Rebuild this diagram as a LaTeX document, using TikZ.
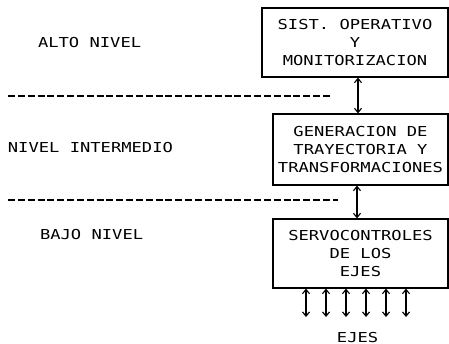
\documentclass[tikz,border=0pt]{standalone}
\usepackage{fontspec}
\newfontfamily\plotter[FakeStretch=1.25]{DejaVu Sans Mono}
\usetikzlibrary{arrows.meta}
\tikzset{
  caja/.style={draw, line width=0.9pt, align=center, inner sep=0pt,
    font=\plotter\fontsize{9.75}{13}\selectfont},
  nivel/.style={anchor=base, inner sep=0pt, font=\plotter\fontsize{9.75}{13}\selectfont},
  corte/.style={line width=0.9pt, dash pattern=on 5pt off 2pt},
  flecha/.style={line width=0.8pt,
    {Straight Barb[length=3pt,width=5pt]}-{Straight Barb[length=3pt,width=5pt]}}
}
\begin{document}
\begin{tikzpicture}
\useasboundingbox (0,0) rectangle (11.225,8.6);

\node[caja, minimum width=4.65cm, minimum height=1.725cm] (sist) at (8.875,7.5375)
  {SIST. OPERATIVO\\Y\\MONITORIZACION};
\node[caja, minimum width=4.375cm, minimum height=1.775cm] (gen) at (9.0125,4.8625)
  {GENERACION DE\\TRAYECTORIA Y\\TRANSFORMACIONES};
\node[caja, minimum width=4.375cm, minimum height=1.725cm] (servo) at (9.0125,2.2625)
  {SERVOCONTROLES\\DE LOS\\EJES};

\draw[flecha] (8.95,0 |- sist.south) -- (8.95,0 |- gen.north);
\draw[flecha] (8.925,0 |- gen.south) -- (8.925,0 |- servo.north);
\foreach \x in {7.65,8.15,...,10.15}
  \draw[flecha] (\x,0 |- servo.south) -- (\x,0.675);

\draw[corte] (0.2,6.2) -- (8.25,6.2);
\draw[corte] (0.2,3.6) -- (8.45,3.6);

\node[nivel] (alto) at (2.24,7.4) {ALTO NIVEL};
\node[nivel] (medio) at (2.26,4.775) {NIVEL INTERMEDIO};
\node[nivel] (bajo) at (2.29,2.6) {BAJO NIVEL};
\node[nivel] (ejes) at (8.94,0.05) {EJES};
\end{tikzpicture}
\end{document}
